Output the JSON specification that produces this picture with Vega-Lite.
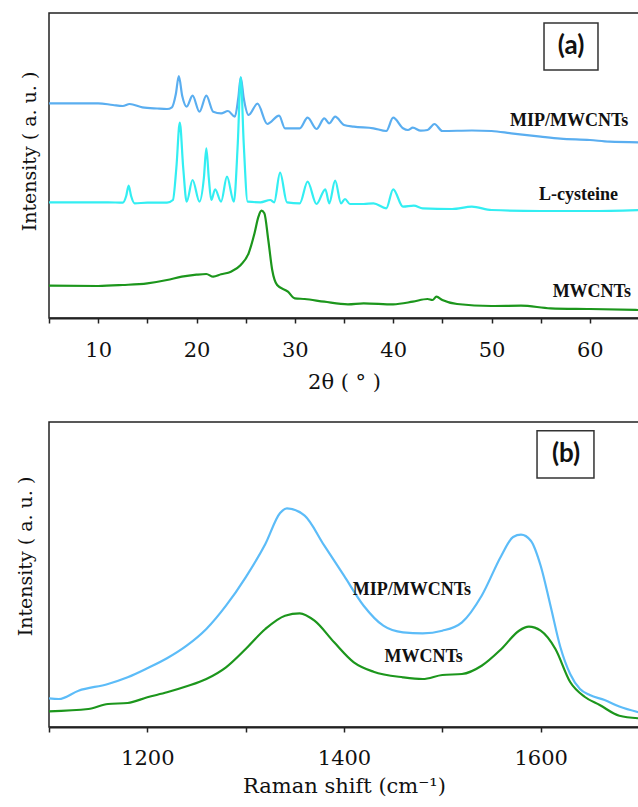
{
  "$schema": "https://vega.github.io/schema/vega-lite/v6.json",
  "padding": {"left": 15, "top": 12, "right": 0, "bottom": 0},
  "background": "white",
  "config": {
    "view": {"stroke": "#222", "strokeWidth": 1.5},
    "axis": {"grid": false, "domainColor": "#222", "domainWidth": 1.8, "tickColor": "#222", "tickWidth": 1.5, "tickSize": 5, "labelOverlap": false}
  },
  "spacing": 28,
  "resolve": {"scale": {"color": "independent"}},
  "datasets": {
    "xrd": [
      {"t":5,"i":214.7,"s":"MIP/MWCNTs"},{"t":8,"i":214.7,"s":"MIP/MWCNTs"},{"t":10,"i":214.7,"s":"MIP/MWCNTs"},{"t":11.5,"i":213,"s":"MIP/MWCNTs"},{"t":12.5,"i":212,"s":"MIP/MWCNTs"},{"t":13.2,"i":214,"s":"MIP/MWCNTs"},{"t":14.5,"i":210.7,"s":"MIP/MWCNTs"},{"t":16,"i":209.5,"s":"MIP/MWCNTs"},{"t":17,"i":209,"s":"MIP/MWCNTs"},{"t":17.5,"i":210.7,"s":"MIP/MWCNTs"},{"t":17.9,"i":224,"s":"MIP/MWCNTs"},{"t":18.2,"i":242,"s":"MIP/MWCNTs"},{"t":18.55,"i":222,"s":"MIP/MWCNTs"},{"t":19,"i":211.3,"s":"MIP/MWCNTs"},{"t":19.6,"i":222.3,"s":"MIP/MWCNTs"},{"t":20.3,"i":206.3,"s":"MIP/MWCNTs"},{"t":21,"i":222.3,"s":"MIP/MWCNTs"},{"t":21.7,"i":206.3,"s":"MIP/MWCNTs"},{"t":22.5,"i":204.7,"s":"MIP/MWCNTs"},{"t":23.2,"i":207,"s":"MIP/MWCNTs"},{"t":23.9,"i":201.3,"s":"MIP/MWCNTs"},{"t":24.25,"i":220,"s":"MIP/MWCNTs"},{"t":24.5,"i":240.7,"s":"MIP/MWCNTs"},{"t":24.8,"i":220,"s":"MIP/MWCNTs"},{"t":25.3,"i":203,"s":"MIP/MWCNTs"},{"t":26.2,"i":214.3,"s":"MIP/MWCNTs"},{"t":27.2,"i":194,"s":"MIP/MWCNTs"},{"t":28.4,"i":202.3,"s":"MIP/MWCNTs"},{"t":29,"i":189.7,"s":"MIP/MWCNTs"},{"t":30.5,"i":189.7,"s":"MIP/MWCNTs"},{"t":31.3,"i":200.3,"s":"MIP/MWCNTs"},{"t":32.2,"i":189,"s":"MIP/MWCNTs"},{"t":33,"i":199.7,"s":"MIP/MWCNTs"},{"t":33.5,"i":194.7,"s":"MIP/MWCNTs"},{"t":34.1,"i":201.3,"s":"MIP/MWCNTs"},{"t":35,"i":193,"s":"MIP/MWCNTs"},{"t":36,"i":191.3,"s":"MIP/MWCNTs"},{"t":38,"i":189.7,"s":"MIP/MWCNTs"},{"t":39.3,"i":187,"s":"MIP/MWCNTs"},{"t":40,"i":200.3,"s":"MIP/MWCNTs"},{"t":41,"i":189.7,"s":"MIP/MWCNTs"},{"t":41.5,"i":188,"s":"MIP/MWCNTs"},{"t":42,"i":190.3,"s":"MIP/MWCNTs"},{"t":42.8,"i":187.3,"s":"MIP/MWCNTs"},{"t":43.5,"i":188,"s":"MIP/MWCNTs"},{"t":44.2,"i":194,"s":"MIP/MWCNTs"},{"t":45,"i":187,"s":"MIP/MWCNTs"},{"t":48,"i":187.5,"s":"MIP/MWCNTs"},{"t":50,"i":187,"s":"MIP/MWCNTs"},{"t":52,"i":184.7,"s":"MIP/MWCNTs"},{"t":55,"i":181.3,"s":"MIP/MWCNTs"},{"t":57,"i":179.3,"s":"MIP/MWCNTs"},{"t":60,"i":178,"s":"MIP/MWCNTs"},{"t":62,"i":176.3,"s":"MIP/MWCNTs"},{"t":65,"i":175.7,"s":"MIP/MWCNTs"},
      {"t":5,"i":115.7,"s":"L-cysteine"},{"t":8,"i":115.7,"s":"L-cysteine"},{"t":11,"i":115.7,"s":"L-cysteine"},{"t":12.5,"i":115.3,"s":"L-cysteine"},{"t":12.85,"i":122,"s":"L-cysteine"},{"t":13.1,"i":132.3,"s":"L-cysteine"},{"t":13.35,"i":122,"s":"L-cysteine"},{"t":13.7,"i":114.7,"s":"L-cysteine"},{"t":15,"i":115.3,"s":"L-cysteine"},{"t":17,"i":115.3,"s":"L-cysteine"},{"t":17.6,"i":118,"s":"L-cysteine"},{"t":17.95,"i":150,"s":"L-cysteine"},{"t":18.3,"i":195.3,"s":"L-cysteine"},{"t":18.65,"i":150,"s":"L-cysteine"},{"t":19,"i":116.3,"s":"L-cysteine"},{"t":19.6,"i":138,"s":"L-cysteine"},{"t":20.3,"i":116.3,"s":"L-cysteine"},{"t":20.75,"i":140,"s":"L-cysteine"},{"t":21,"i":169.7,"s":"L-cysteine"},{"t":21.25,"i":140,"s":"L-cysteine"},{"t":21.5,"i":118,"s":"L-cysteine"},{"t":21.9,"i":128.7,"s":"L-cysteine"},{"t":22.5,"i":116.3,"s":"L-cysteine"},{"t":23.1,"i":141.3,"s":"L-cysteine"},{"t":23.8,"i":116.3,"s":"L-cysteine"},{"t":24.2,"i":175,"s":"L-cysteine"},{"t":24.5,"i":240.7,"s":"L-cysteine"},{"t":24.8,"i":175,"s":"L-cysteine"},{"t":25.2,"i":116.3,"s":"L-cysteine"},{"t":26.5,"i":115.7,"s":"L-cysteine"},{"t":27.5,"i":118,"s":"L-cysteine"},{"t":27.9,"i":115.7,"s":"L-cysteine"},{"t":28.5,"i":145.3,"s":"L-cysteine"},{"t":29.2,"i":115.7,"s":"L-cysteine"},{"t":30.5,"i":114.7,"s":"L-cysteine"},{"t":31.3,"i":136.3,"s":"L-cysteine"},{"t":32.2,"i":114,"s":"L-cysteine"},{"t":33.1,"i":128.7,"s":"L-cysteine"},{"t":33.5,"i":114.7,"s":"L-cysteine"},{"t":34.1,"i":137.3,"s":"L-cysteine"},{"t":34.7,"i":114.7,"s":"L-cysteine"},{"t":35.1,"i":119,"s":"L-cysteine"},{"t":35.6,"i":114,"s":"L-cysteine"},{"t":37,"i":114,"s":"L-cysteine"},{"t":38,"i":114.7,"s":"L-cysteine"},{"t":39.3,"i":109.7,"s":"L-cysteine"},{"t":40,"i":128.7,"s":"L-cysteine"},{"t":41,"i":111.3,"s":"L-cysteine"},{"t":42.1,"i":112.3,"s":"L-cysteine"},{"t":43,"i":109.7,"s":"L-cysteine"},{"t":46,"i":109,"s":"L-cysteine"},{"t":48,"i":111.3,"s":"L-cysteine"},{"t":50,"i":108,"s":"L-cysteine"},{"t":55,"i":107,"s":"L-cysteine"},{"t":60,"i":107,"s":"L-cysteine"},{"t":65,"i":108,"s":"L-cysteine"},
      {"t":5,"i":32.3,"s":"MWCNTs"},{"t":10,"i":32,"s":"MWCNTs"},{"t":12.5,"i":33,"s":"MWCNTs"},{"t":15,"i":34.7,"s":"MWCNTs"},{"t":17,"i":38,"s":"MWCNTs"},{"t":18.5,"i":41.3,"s":"MWCNTs"},{"t":20,"i":43.3,"s":"MWCNTs"},{"t":21,"i":44,"s":"MWCNTs"},{"t":21.7,"i":41.3,"s":"MWCNTs"},{"t":22.5,"i":43.7,"s":"MWCNTs"},{"t":23.5,"i":46.3,"s":"MWCNTs"},{"t":24.5,"i":53,"s":"MWCNTs"},{"t":25.3,"i":64.7,"s":"MWCNTs"},{"t":25.9,"i":84.7,"s":"MWCNTs"},{"t":26.3,"i":101.3,"s":"MWCNTs"},{"t":26.6,"i":107.3,"s":"MWCNTs"},{"t":26.9,"i":104.7,"s":"MWCNTs"},{"t":27.3,"i":78,"s":"MWCNTs"},{"t":27.7,"i":48,"s":"MWCNTs"},{"t":28.2,"i":33,"s":"MWCNTs"},{"t":29.3,"i":26.3,"s":"MWCNTs"},{"t":30,"i":19.7,"s":"MWCNTs"},{"t":31,"i":19,"s":"MWCNTs"},{"t":33,"i":16.3,"s":"MWCNTs"},{"t":35.4,"i":13.7,"s":"MWCNTs"},{"t":37,"i":14.7,"s":"MWCNTs"},{"t":40,"i":13.7,"s":"MWCNTs"},{"t":42,"i":16.3,"s":"MWCNTs"},{"t":43.5,"i":19,"s":"MWCNTs"},{"t":44,"i":18,"s":"MWCNTs"},{"t":44.4,"i":21.3,"s":"MWCNTs"},{"t":45,"i":18,"s":"MWCNTs"},{"t":46.5,"i":14,"s":"MWCNTs"},{"t":50,"i":12,"s":"MWCNTs"},{"t":53,"i":12.3,"s":"MWCNTs"},{"t":56,"i":9.7,"s":"MWCNTs"},{"t":60,"i":9,"s":"MWCNTs"},{"t":65,"i":8,"s":"MWCNTs"}
    ],
    "raman": [
      {"w":1100,"i":28.7,"s":"MIP/MWCNTs"},{"w":1110,"i":28,"s":"MIP/MWCNTs"},{"w":1130,"i":36.3,"s":"MIP/MWCNTs"},{"w":1160,"i":43,"s":"MIP/MWCNTs"},{"w":1180,"i":49.7,"s":"MIP/MWCNTs"},{"w":1200,"i":58.7,"s":"MIP/MWCNTs"},{"w":1220,"i":68.7,"s":"MIP/MWCNTs"},{"w":1240,"i":81.3,"s":"MIP/MWCNTs"},{"w":1260,"i":98,"s":"MIP/MWCNTs"},{"w":1280,"i":121.3,"s":"MIP/MWCNTs"},{"w":1300,"i":149.7,"s":"MIP/MWCNTs"},{"w":1320,"i":183,"s":"MIP/MWCNTs"},{"w":1335,"i":214,"s":"MIP/MWCNTs"},{"w":1342,"i":218.7,"s":"MIP/MWCNTs"},{"w":1360,"i":211.3,"s":"MIP/MWCNTs"},{"w":1380,"i":181.3,"s":"MIP/MWCNTs"},{"w":1400,"i":151.3,"s":"MIP/MWCNTs"},{"w":1420,"i":121.3,"s":"MIP/MWCNTs"},{"w":1440,"i":101.3,"s":"MIP/MWCNTs"},{"w":1460,"i":94.7,"s":"MIP/MWCNTs"},{"w":1480,"i":93.7,"s":"MIP/MWCNTs"},{"w":1500,"i":96.3,"s":"MIP/MWCNTs"},{"w":1520,"i":104.7,"s":"MIP/MWCNTs"},{"w":1540,"i":131.3,"s":"MIP/MWCNTs"},{"w":1560,"i":171.3,"s":"MIP/MWCNTs"},{"w":1572,"i":190,"s":"MIP/MWCNTs"},{"w":1580,"i":192.3,"s":"MIP/MWCNTs"},{"w":1590,"i":186.3,"s":"MIP/MWCNTs"},{"w":1600,"i":161.3,"s":"MIP/MWCNTs"},{"w":1610,"i":121.3,"s":"MIP/MWCNTs"},{"w":1620,"i":80,"s":"MIP/MWCNTs"},{"w":1630,"i":53,"s":"MIP/MWCNTs"},{"w":1640,"i":38,"s":"MIP/MWCNTs"},{"w":1650,"i":32,"s":"MIP/MWCNTs"},{"w":1665,"i":27,"s":"MIP/MWCNTs"},{"w":1680,"i":20.5,"s":"MIP/MWCNTs"},{"w":1700,"i":14.7,"s":"MIP/MWCNTs"},
      {"w":1100,"i":15.7,"s":"MWCNTs"},{"w":1140,"i":18,"s":"MWCNTs"},{"w":1160,"i":23,"s":"MWCNTs"},{"w":1180,"i":24,"s":"MWCNTs"},{"w":1200,"i":29.7,"s":"MWCNTs"},{"w":1220,"i":34.7,"s":"MWCNTs"},{"w":1240,"i":40.7,"s":"MWCNTs"},{"w":1260,"i":48,"s":"MWCNTs"},{"w":1280,"i":59.7,"s":"MWCNTs"},{"w":1300,"i":78,"s":"MWCNTs"},{"w":1320,"i":98,"s":"MWCNTs"},{"w":1340,"i":111.3,"s":"MWCNTs"},{"w":1355,"i":113.7,"s":"MWCNTs"},{"w":1370,"i":106.3,"s":"MWCNTs"},{"w":1390,"i":84.7,"s":"MWCNTs"},{"w":1410,"i":64.7,"s":"MWCNTs"},{"w":1430,"i":55.3,"s":"MWCNTs"},{"w":1460,"i":49.7,"s":"MWCNTs"},{"w":1480,"i":48,"s":"MWCNTs"},{"w":1500,"i":52,"s":"MWCNTs"},{"w":1520,"i":53,"s":"MWCNTs"},{"w":1540,"i":61.3,"s":"MWCNTs"},{"w":1560,"i":78,"s":"MWCNTs"},{"w":1578,"i":96.3,"s":"MWCNTs"},{"w":1588,"i":100.3,"s":"MWCNTs"},{"w":1600,"i":96.3,"s":"MWCNTs"},{"w":1615,"i":78,"s":"MWCNTs"},{"w":1630,"i":45,"s":"MWCNTs"},{"w":1645,"i":30,"s":"MWCNTs"},{"w":1660,"i":22,"s":"MWCNTs"},{"w":1680,"i":11.3,"s":"MWCNTs"},{"w":1700,"i":8.7,"s":"MWCNTs"}
    ],
    "labA": [
      {"x":57.9,"y":197,"label":"MIP/MWCNTs"},
      {"x":58.85,"y":123,"label":"L-cysteine"},
      {"x":60.2,"y":26.3,"label":"MWCNTs"}
    ],
    "boxA": [{"x":55.34,"x2":60.83,"y":295,"y2":248,"cx":58.09,"cy":272,"label":"(a)"}],
    "labB": [
      {"x":1469,"y":137.3,"label":"MIP/MWCNTs"},
      {"x":1481,"y":70.3,"label":"MWCNTs"}
    ],
    "boxB": [{"x":1596.3,"x2":1654.2,"y":296.3,"y2":249,"cx":1625.8,"cy":273,"label":"(b)"}]
  },
  "vconcat": [
    {
      "width": 590,
      "height": 305,
      "layer": [
        {
          "data": {"name": "xrd"},
          "mark": {"type": "line", "interpolate": "monotone", "strokeWidth": 2.2, "clip": true},
          "encoding": {
            "x": {"field": "t", "type": "quantitative", "scale": {"domain": [5, 65], "nice": false, "zero": false},
              "axis": {"values": [5,10,15,20,25,30,35,40,45,50,55,60,65], "labelExpr": "datum.value % 10 === 0 ? datum.label : ''", "title": "2θ ( ° )", "labelFont": "DejaVu Serif", "titleFont": "DejaVu Serif", "labelFontSize": 21, "titleFontSize": 21, "labelColor": "#111", "titleColor": "#111", "titleFontWeight": "normal", "labelPadding": 16, "titlePadding": 11}},
            "y": {"field": "i", "type": "quantitative", "scale": {"domain": [0, 305], "nice": false},
              "axis": {"labels": false, "ticks": false, "domain": false, "title": "Intensity ( a. u. )", "titleFont": "DejaVu Serif", "titleFontSize": 19, "titleColor": "#111", "titleFontWeight": "normal", "titlePadding": 10, "titleY": 138}},
            "color": {"field": "s", "type": "nominal", "scale": {"domain": ["MIP/MWCNTs", "L-cysteine", "MWCNTs"], "range": ["#5aaef0", "#33eef2", "#1c961c"]}, "legend": null}
          }
        },
        {
          "data": {"name": "labA"},
          "mark": {"type": "text", "font": "Liberation Serif", "fontWeight": "bold", "fontSize": 18, "color": "#111"},
          "encoding": {
            "x": {"field": "x", "type": "quantitative"},
            "y": {"field": "y", "type": "quantitative"},
            "text": {"field": "label"}
          }
        },
        {
          "data": {"name": "boxA"},
          "mark": {"type": "rect", "fill": "white", "stroke": "#333", "strokeWidth": 1.5},
          "encoding": {
            "x": {"field": "x", "type": "quantitative"},
            "x2": {"field": "x2"},
            "y": {"field": "y", "type": "quantitative"},
            "y2": {"field": "y2"}
          }
        },
        {
          "data": {"name": "boxA"},
          "mark": {"type": "text", "font": "Lato", "fontWeight": "bold", "fontSize": 26, "color": "#111"},
          "encoding": {
            "x": {"field": "cx", "type": "quantitative"},
            "y": {"field": "cy", "type": "quantitative"},
            "text": {"field": "label"}
          }
        }
      ]
    },
    {
      "width": 590,
      "height": 305,
      "layer": [
        {
          "data": {"name": "raman"},
          "mark": {"type": "line", "interpolate": "monotone", "strokeWidth": 2.2, "clip": true},
          "encoding": {
            "x": {"field": "w", "type": "quantitative", "scale": {"domain": [1100, 1700], "nice": false, "zero": false},
              "axis": {"values": [1100,1200,1300,1400,1500,1600,1700], "labelExpr": "datum.value % 200 === 0 ? datum.label : ''", "format": "d", "title": "Raman shift  (cm⁻¹)", "labelFont": "DejaVu Serif", "titleFont": "DejaVu Serif", "labelFontSize": 21, "titleFontSize": 21, "labelColor": "#111", "titleColor": "#111", "titleFontWeight": "normal", "labelPadding": 15, "titlePadding": 7}},
            "y": {"field": "i", "type": "quantitative", "scale": {"domain": [0, 305], "nice": false},
              "axis": {"labels": false, "ticks": false, "domain": false, "title": "Intensity ( a. u. )", "titleFont": "DejaVu Serif", "titleFontSize": 19, "titleColor": "#111", "titleFontWeight": "normal", "titlePadding": 14, "titleY": 134}},
            "color": {"field": "s", "type": "nominal", "scale": {"domain": ["MIP/MWCNTs", "MWCNTs"], "range": ["#5cbcf8", "#1c961c"]}, "legend": null}
          }
        },
        {
          "data": {"name": "labB"},
          "mark": {"type": "text", "font": "Liberation Serif", "fontWeight": "bold", "fontSize": 18, "color": "#111"},
          "encoding": {
            "x": {"field": "x", "type": "quantitative"},
            "y": {"field": "y", "type": "quantitative"},
            "text": {"field": "label"}
          }
        },
        {
          "data": {"name": "boxB"},
          "mark": {"type": "rect", "fill": "white", "stroke": "#333", "strokeWidth": 1.5},
          "encoding": {
            "x": {"field": "x", "type": "quantitative"},
            "x2": {"field": "x2"},
            "y": {"field": "y", "type": "quantitative"},
            "y2": {"field": "y2"}
          }
        },
        {
          "data": {"name": "boxB"},
          "mark": {"type": "text", "font": "Lato", "fontWeight": "bold", "fontSize": 26, "color": "#111"},
          "encoding": {
            "x": {"field": "cx", "type": "quantitative"},
            "y": {"field": "cy", "type": "quantitative"},
            "text": {"field": "label"}
          }
        }
      ]
    }
  ]
}
